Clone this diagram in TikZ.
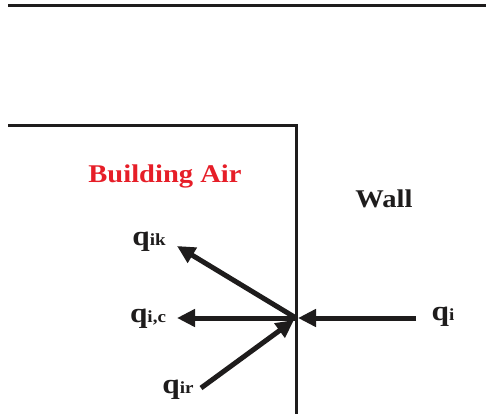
\documentclass[tikz,border=0pt]{standalone}
\usepackage{fontspec}
\setmainfont{Liberation Serif}[FakeStretch=1.12]
\usetikzlibrary{arrows.meta}
\definecolor{airred}{RGB}{230,30,40}
\definecolor{ink}{RGB}{30,28,28}
\tikzset{
  border/.style={draw=ink,line width=3pt},
  flux/.style={draw=ink,line width=5pt,-{Triangle[length=18pt,width=17pt]}},
  qlab/.style={inner sep=0pt,text=ink,font=\bfseries},
  title/.style={inner sep=0pt,font=\bfseries\fontsize{25.5}{28}\selectfont}
}
\newcommand{\qsym}[1]{{\fontsize{28}{30}\selectfont q}{\fontsize{17}{18}\selectfont #1}}
\begin{document}
\begin{tikzpicture}[x=1pt,y=-1pt]
\useasboundingbox (0,0) rectangle (486,414);
% borders
\coordinate (t1) at (8,5.5);
\coordinate (t2) at (486,5.5);
\coordinate (c1) at (8,126);
\coordinate (c2) at (296.5,126);
\coordinate (c3) at (296.5,414);
\draw[border] (t1) -- (t2);
\draw[border,line join=miter] (c1) -- (c2) -- (c3);
% fluxes
\coordinate (O) at (296,318);
\coordinate (qiT) at (416,318);
\coordinate (qiH) at (298,318);
\coordinate (qcH) at (177,318);
\coordinate (qkH) at (177,246);
\coordinate (qrT) at (201,388);
\coordinate (qrH) at (294,320);
\draw[flux] (qiT) -- (qiH);
\draw[flux] (O) -- (qcH);
\draw[flux] (O) -- (qkH);
\draw[flux] (qrT) -- (qrH);
% labels
\node[title,text=airred] (air) at (165,176) {Building Air};
\node[title,text=ink] (wall) at (384,199) {Wall};
\node[qlab,anchor=base] (lk) at (149,245) {\qsym{ik}};
\node[qlab,anchor=base] (lc) at (148,322) {\qsym{i,c}};
\node[qlab,anchor=base] (lr) at (178,393) {\qsym{ir}};
\node[qlab,anchor=base] (li) at (443,320) {\qsym{i}};
\end{tikzpicture}
\end{document}
